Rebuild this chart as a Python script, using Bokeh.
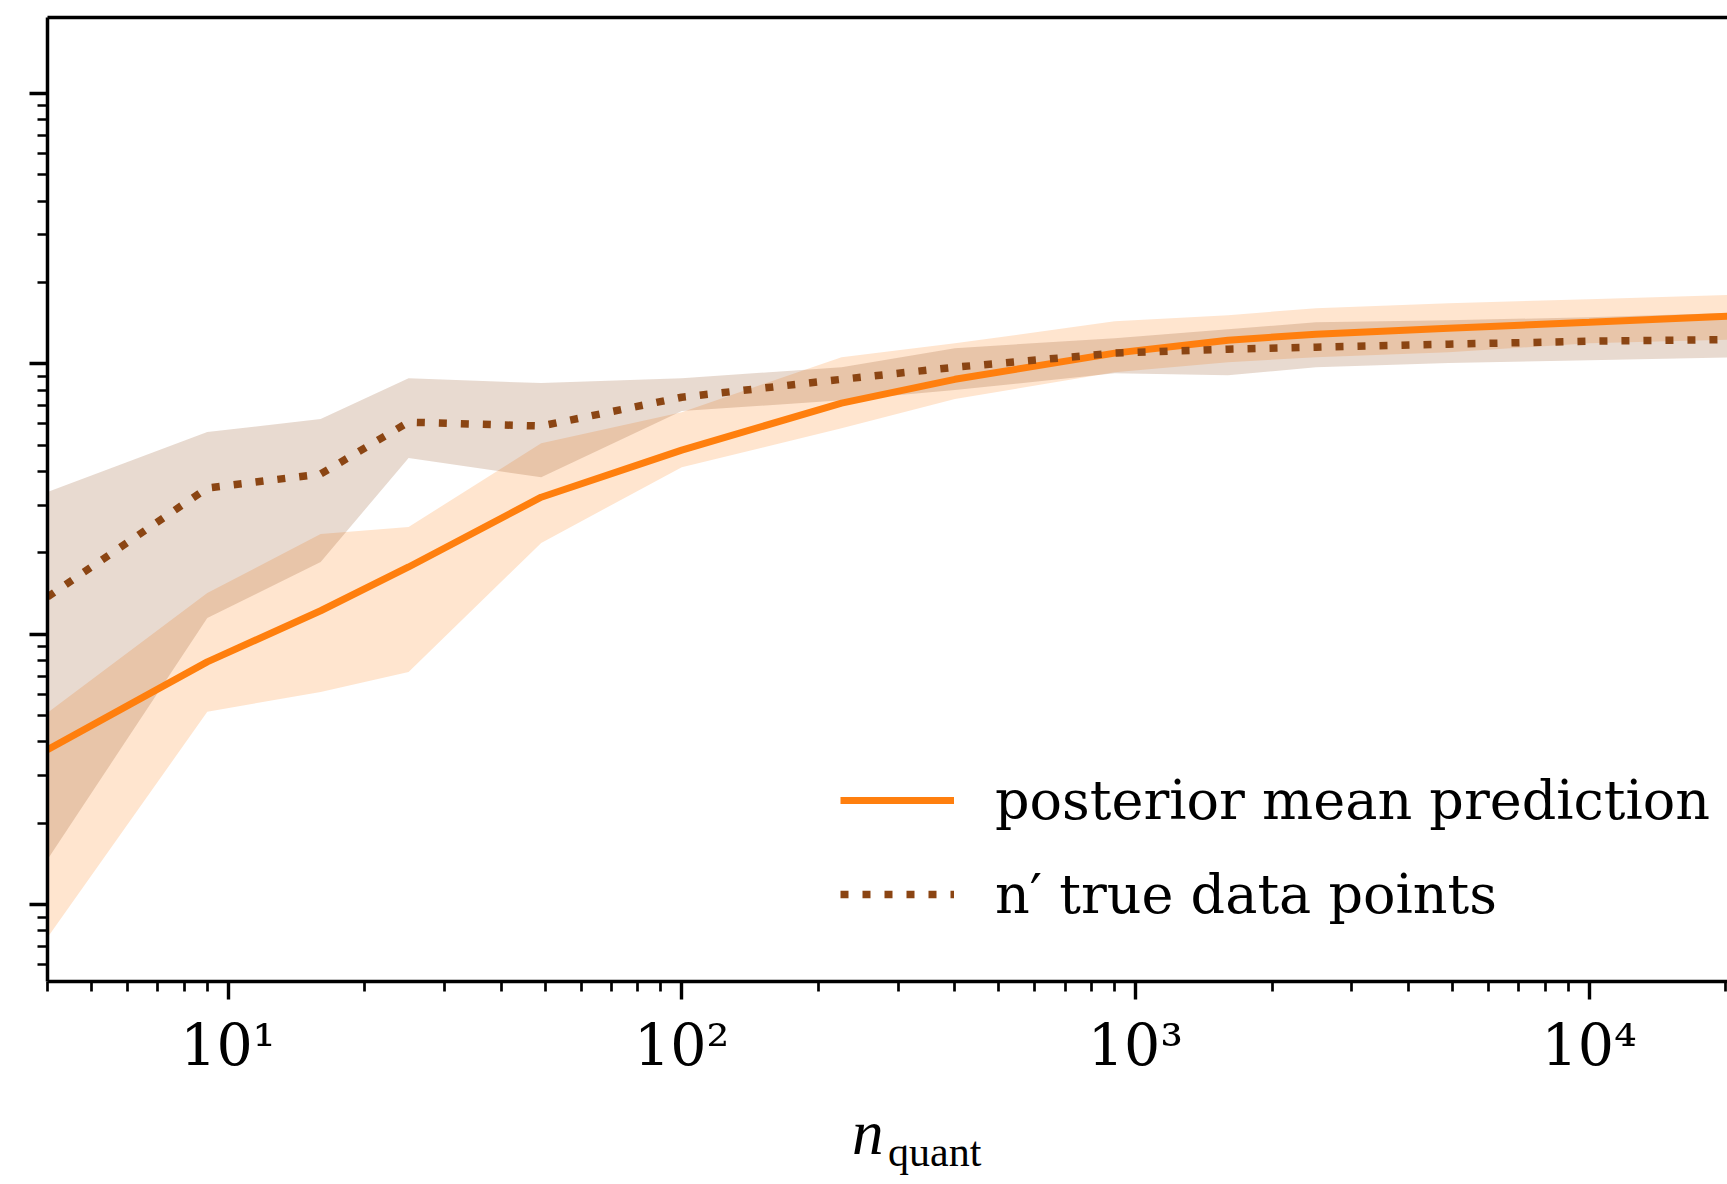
from bokeh.plotting import figure
from bokeh.layouts import column
from bokeh.models import (Legend, LegendItem, LogAxis, FixedTicker,
                          CustomJSTickFormatter)
from bokeh.core.properties import value
from bokeh.embed import file_html
from bokeh.resources import INLINE

# ---------------- data ----------------
n_quant = [4, 9, 16, 25, 49, 100, 225, 400, 900, 1600, 2500, 4900, 10000, 22500]

pred_mean = [0.00374, 0.00791, 0.01222, 0.01774, 0.03214, 0.04798, 0.07161,
             0.0877, 0.1096, 0.1224, 0.1288, 0.1355, 0.1426, 0.1514]
pred_lo = [0.000756, 0.00517, 0.00612, 0.00726, 0.02178, 0.0415, 0.0578,
           0.0741, 0.0931, 0.1014, 0.1059, 0.1104, 0.1191, 0.1233]
pred_hi = [0.00513, 0.01422, 0.02349, 0.02493, 0.0509, 0.0663, 0.1059,
           0.1191, 0.1438, 0.1514, 0.1607, 0.1676, 0.1734, 0.1808]

true_mean = [0.01374, 0.03475, 0.03915, 0.0609, 0.0589, 0.0753, 0.0877,
             0.0972, 0.1096, 0.1133, 0.1153, 0.1183, 0.1213, 0.1233]
true_lo = [0.001469, 0.01150, 0.01850, 0.0449, 0.0381, 0.0669, 0.0734,
           0.0800, 0.0924, 0.0908, 0.0972, 0.1007, 0.1032, 0.1059]
true_hi = [0.0336, 0.0560, 0.0625, 0.0885, 0.0849, 0.0885, 0.0972,
           0.1143, 0.1245, 0.1343, 0.1426, 0.1449, 0.1489, 0.1552]

x_major_ticks = [10, 100, 1000, 10000]
x_tick_labels = ["10\u00b9", "10\u00b2", "10\u00b3", "10\u2074"]

legend_labels = ["posterior mean prediction", "n\u2032 true data points"]
x_label_main = "n"
x_label_sub = "quant"

ORANGE = "#ff7f0e"
BROWN = "#8b4513"
FONT = "DejaVu Serif"
MATH_FONT = "Liberation Serif"

W = 1727
H_MAIN = 1080
H_LABEL = 104

# ---------------- main figure ----------------
p = figure(width=W, height=H_MAIN, x_axis_type="log", y_axis_type="log",
           x_range=(4, 20180), y_range=(5.2e-4, 1.91),
           output_backend="svg", toolbar_location=None,
           min_border_left=47, min_border_right=0, min_border_top=17,
           min_border_bottom=H_MAIN - 17 - 965)
p.outline_line_color = None
p.background_fill_color = "white"
p.border_fill_color = "white"
p.xgrid.visible = False
p.ygrid.visible = False

# bands
p.varea(x=n_quant, y1=pred_lo, y2=pred_hi, fill_color=ORANGE, fill_alpha=0.2)
p.varea(x=n_quant, y1=true_lo, y2=true_hi, fill_color=BROWN, fill_alpha=0.2)

# lines
r_pred = p.line(n_quant, pred_mean, line_color=ORANGE, line_width=7)
r_true = p.line(n_quant, true_mean, line_color=BROWN, line_width=7.5,
                line_dash="8 14", line_cap="butt")

# axes styling
for ax in (p.xaxis[0], p.yaxis[0]):
    ax.axis_line_color = "black"
    ax.axis_line_width = 3.5
    ax.major_tick_line_color = "black"
    ax.minor_tick_line_color = "black"
    ax.major_tick_line_width = 3.4
    ax.minor_tick_line_width = 2.7
    ax.major_tick_out = 18
    ax.major_tick_in = 0
    ax.minor_tick_out = 10
    ax.minor_tick_in = 0

p.yaxis[0].formatter = CustomJSTickFormatter(code="return '';")
p.yaxis[0].major_label_standoff = 0

p.xaxis[0].formatter = CustomJSTickFormatter(
    args=dict(major_vals=x_major_ticks, major_texts=x_tick_labels),
    code="""
    for (let i = 0; i < major_vals.length; i++) {
        if (Math.abs(Math.log10(major_vals[i]) - Math.log10(tick)) < 1e-6) return major_texts[i];
    }
    return '';
    """)
p.xaxis[0].major_label_text_font = FONT
p.xaxis[0].major_label_text_font_size = "57px"
p.xaxis[0].major_label_text_color = "black"
p.xaxis[0].major_label_standoff = 12

# top spine (no ticks)
top = LogAxis(ticker=FixedTicker(ticks=[]), axis_line_width=3.5,
              axis_line_color="black", major_tick_out=0, minor_tick_out=0,
              major_label_standoff=0)
p.add_layout(top, "above")

# legend
legend = Legend(items=[LegendItem(label=legend_labels[0], renderers=[r_pred]),
                       LegendItem(label=legend_labels[1], renderers=[r_true])],
                location=(793, 40), label_text_font=FONT,
                label_text_font_size="54px", label_text_color="black",
                glyph_width=114, glyph_height=94, label_height=94,
                label_standoff=41, spacing=0, padding=0, margin=0,
                border_line_color=None, background_fill_alpha=0)
p.add_layout(legend)

# ---------------- x axis title strip: n_quant ----------------
q = figure(width=W, height=H_LABEL, x_range=(0, W), y_range=(0, H_LABEL),
           output_backend="svg", toolbar_location=None,
           x_axis_location=None, y_axis_location=None,
           min_border=0, min_border_left=0, min_border_right=0,
           min_border_top=0, min_border_bottom=0)
q.outline_line_color = None
q.xgrid.visible = False
q.ygrid.visible = False
q.background_fill_color = "white"
q.border_fill_color = "white"

q.text(x=[827], y=[52], text=[x_label_main], text_font=value(MATH_FONT),
       text_font_style="italic", text_font_size="63px",
       text_baseline="alphabetic", text_align="left", text_color="black")
q.text(x=[864], y=[33], text=[x_label_sub], text_font=value(MATH_FONT),
       text_font_size="42px", text_baseline="alphabetic", text_align="left",
       text_color="black")

layout = column(p, q, spacing=0)
open("out.html", "w").write(file_html(layout, INLINE))
